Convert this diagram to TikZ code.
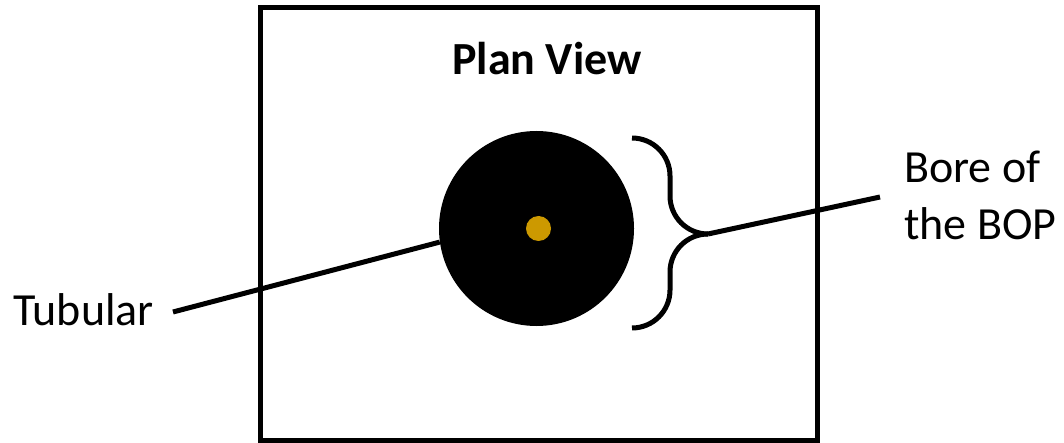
\documentclass[tikz,border=0pt]{standalone}
\usepackage{fontspec}
\setmainfont{Carlito}
\definecolor{borecore}{HTML}{CC9900}

\begin{document}
\begin{tikzpicture}[
		% one unit is one pixel of the reference, y runs downwards
		x=1pt,
		y=-1pt,
		outline/.style={draw=black, line width=5pt},
		leader/.style={draw=black, line width=5pt},
		labeltext/.style={font=\fontsize{46}{57}\selectfont, inner sep=0pt}
		]
		\useasboundingbox (0,0) rectangle (1064,443);
		
		% ==========================================
		% 1. The frame of the plan view
		% ==========================================
		\draw[outline] (260,8) rectangle (817,440);
		\node[labeltext, font=\fontsize{46}{57}\selectfont\bfseries, anchor=base] (title) at (547,75) {Plan View};
		
		% ==========================================
		% 2. The bore and the tubular in it
		% ==========================================
		\node[circle, fill=black, inner sep=0pt, minimum size=195pt] (bore) at (536.5,228.5) {};
		\node[circle, fill=borecore, inner sep=0pt, minimum size=25pt] (core) at (538.5,228.5) {};
		
		% ==========================================
		% 3. Labels and leaders
		% ==========================================
		\node[labeltext, anchor=base west] (tubular) at (13,325) {Tubular};
		\coordinate (tubstart) at (173,312);
		\draw[leader] (tubstart) -- (bore.188);
		
		% Brace round the bore
		\coordinate (tip) at (708,234);
		\draw[leader, rounded corners=38pt] (632,138) -- (670,138) -- (670,234) -- (tip);
		\draw[leader, rounded corners=38pt] (632,328) -- (670,328) -- (670,234) -- (tip);
		
		% base of a two-line node is the baseline of its last line
		\node[labeltext, align=left, anchor=base west] (borelabel) at (904,240) {Bore of\\the BOP};
		\coordinate (boreend) at (880,197);
		\draw[leader] (tip) -- (boreend);
		
	\end{tikzpicture}
\end{document}
